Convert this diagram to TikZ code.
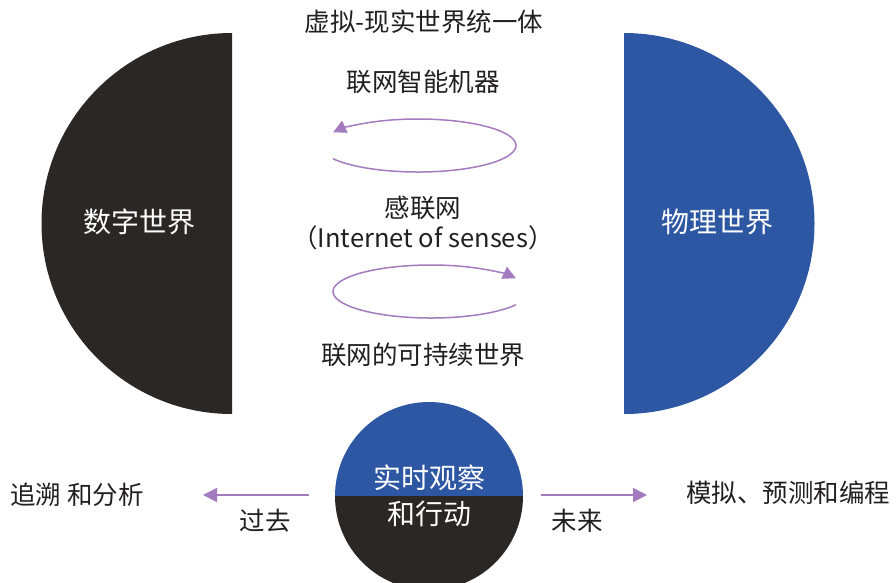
\documentclass[tikz,border=0pt]{standalone}
\usepackage{fontspec}
\setmainfont{Noto Sans CJK SC}
\usetikzlibrary{arrows.meta}
\definecolor{darkfill}{HTML}{2B2724}
\definecolor{bluefill}{HTML}{2D56A3}
\definecolor{arrowpurple}{HTML}{A47BBF}
\definecolor{textdark}{HTML}{231F20}
\tikzset{
  lbl/.style={text=textdark, font=\fontsize{25.5}{28}\selectfont, inner sep=0pt},
  wlbl/.style={text=white, font=\fontsize{28}{30}\selectfont, inner sep=0pt},
  loop/.style={draw=arrowpurple, line width=1.5pt, -{Triangle[length=13pt,width=13pt]}},
  timearrow/.style={draw=arrowpurple, line width=1.5pt, -{Triangle[length=14pt,width=14pt]}},
}
\begin{document}
\begin{tikzpicture}[x=1pt,y=-1pt]
\useasboundingbox (0,0) rectangle (896,582);
% half discs
\fill[darkfill] (232,33) arc[start angle=90,end angle=270,radius=190.5pt] -- cycle;
\fill[bluefill] (624,33) arc[start angle=90,end angle=-90,radius=190.5pt] -- cycle;
% bottom circle
\coordinate (cc) at (429,496);
\begin{scope}
\clip (0,0) rectangle (896,582);
\fill[bluefill] ([shift={(0:94pt)}]cc) arc[start angle=0,end angle=180,radius=94pt] -- cycle;
\fill[darkfill] ([shift={(180:94pt)}]cc) arc[start angle=180,end angle=360,radius=94pt] -- cycle;
\end{scope}
% labels
\node[lbl] (title) at (424,22) {虚拟-现实世界统一体};
\node[lbl] (machines) at (423,82) {联网智能机器};
\node[lbl] (senses) at (423,208) {感联网};
\node[lbl] (sensesen) at (423,238) {（Internet of senses）};
\node[lbl] (sustain) at (423,355) {联网的可持续世界};
\node[wlbl] (digital) at (139,222) {数字世界};
\node[wlbl] (physical) at (717,222) {物理世界};
\node[wlbl] (obs1) at (429,478) {实时观察};
\node[wlbl] (obs2) at (429,514) {和行动};
\node[lbl] (trace) at (77,495) {追溯 和分析};
\node[lbl] (past) at (265,521) {过去};
\node[lbl] (future) at (577,521) {未来};
\node[lbl] (simulate) at (788,493) {模拟、预测和编程};
% loops
\coordinate (e1) at (418,145.5);
\coordinate (e2) at (431,291.5);
\draw[loop] ([shift={(210:98pt and 26.5pt)}]e1) arc[start angle=210,end angle=510,x radius=98pt,y radius=26.5pt];
\draw[loop] ([shift={(-30:98pt and 26.5pt)}]e2) arc[start angle=-30,end angle=-330,x radius=98pt,y radius=26.5pt];
% time arrows
\coordinate (pastfrom) at (309,495);
\coordinate (pastto) at (203,495);
\coordinate (futfrom) at (541,495);
\coordinate (futto) at (647,495);
\draw[timearrow] (pastfrom) -- (pastto);
\draw[timearrow] (futfrom) -- (futto);
\end{tikzpicture}
\end{document}
